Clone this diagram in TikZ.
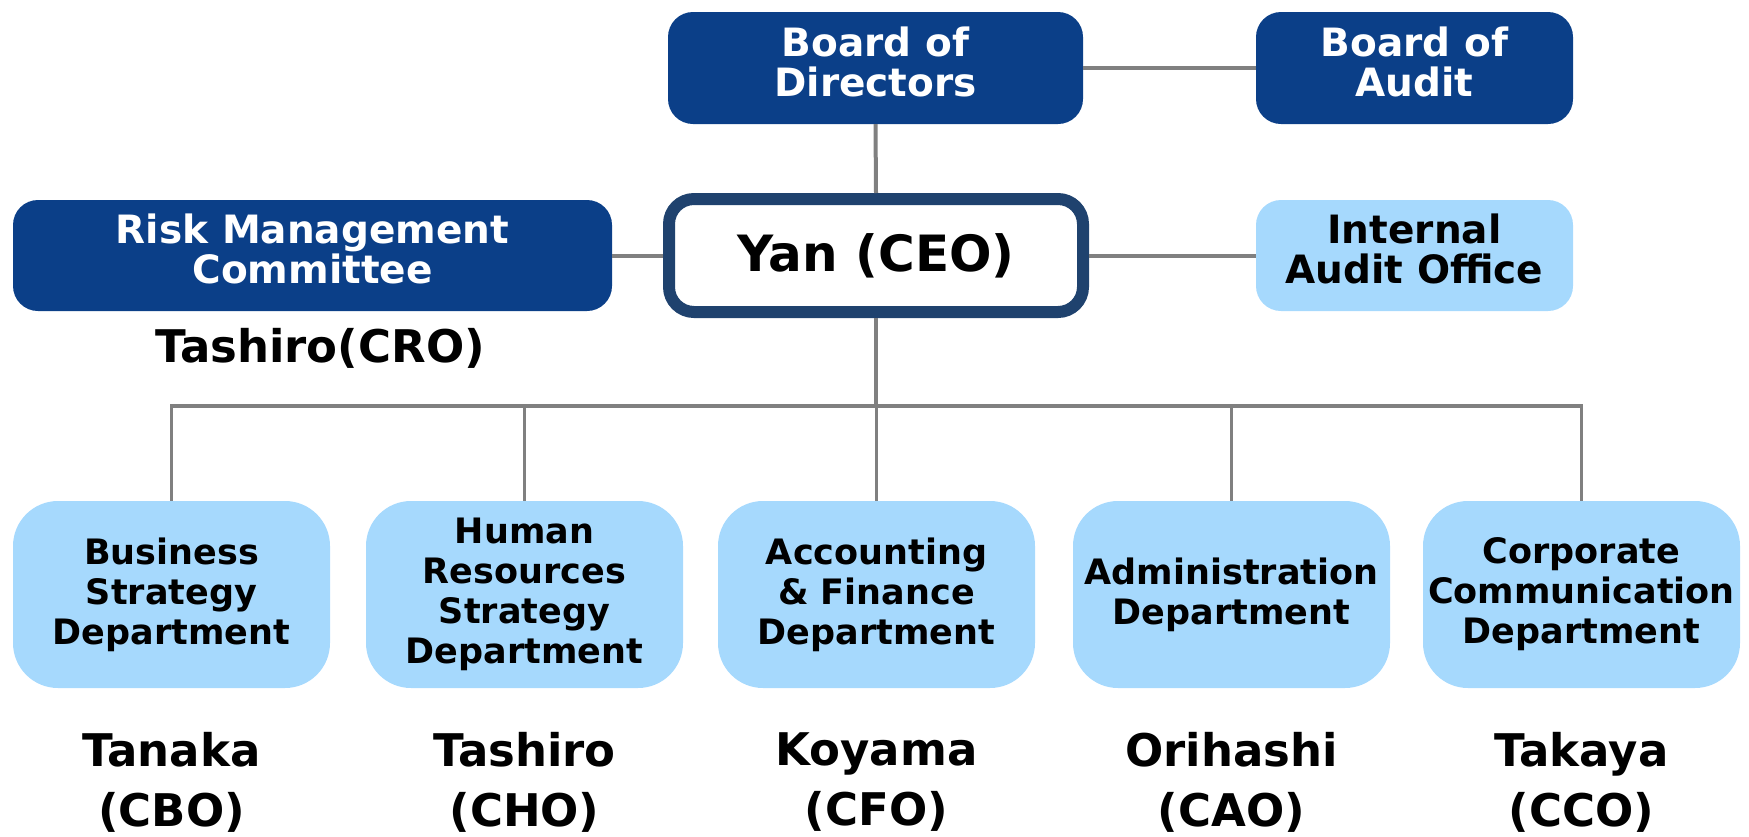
\documentclass[tikz,border=0pt]{standalone}
\usepackage{fontspec}
\setmainfont{DejaVu Sans}

\definecolor{navy}{HTML}{0B3F88}
\definecolor{skyblue}{HTML}{A6D9FD}
\definecolor{ceoframe}{HTML}{1F426E}
\definecolor{linkgray}{HTML}{808080}

\begin{document}
\begin{tikzpicture}[x=1pt, y=-1pt,
  darkbox/.style={rectangle, rounded corners=25pt, fill=navy, text=white, align=center,
    inner sep=0pt, font=\fontsize{39}{40}\selectfont\bfseries, text depth=13pt},
  lightbox/.style={rectangle, rounded corners=25pt, fill=skyblue, text=black, align=center,
    inner sep=0pt, font=\fontsize{39}{40}\selectfont\bfseries, text depth=13pt},
  deptbox/.style={rectangle, rounded corners=45pt, fill=skyblue, align=center,
    minimum width=317pt, minimum height=187pt, inner sep=0pt,
    font=\fontsize{35}{40}\selectfont\bfseries},
  officer/.style={align=center, inner sep=0pt, font=\fontsize{45}{60}\selectfont\bfseries},
  link/.style={draw=linkgray, line width=4pt}]

\useasboundingbox (0,0) rectangle (1749,836);

% top level
\node[darkbox, minimum width=415pt, minimum height=112pt] (board) at (875.5,68) {Board of\\Directors};
\node[darkbox, minimum width=317pt, minimum height=112pt] (audit) at (1414.5,68) {Board of\\Audit};

% second level
\node[darkbox, minimum width=599pt, minimum height=111pt] (risk) at (312.5,255.5) {Risk Management\\Committee};
\node[rectangle, rounded corners=25pt, draw=ceoframe, line width=12pt, fill=white,
  minimum width=414pt, minimum height=113pt, inner sep=0pt,
  font=\fontsize{50}{56}\selectfont\bfseries] (ceo) at (876,255.5) {Yan (CEO)};
\node[lightbox, minimum width=317pt, minimum height=111pt] (internal) at (1414.5,255.5) {Internal\\Audit Office};
\node[officer] (cro) at (320,348) {Tashiro(CRO)};

% departments
\node[deptbox] (bsd) at (171.5,594.5) {Business\\Strategy\\Department};
\node[deptbox] (hrd) at (524.5,594.5) {Human\\Resources\\Strategy\\Department};
\node[deptbox] (afd) at (876.5,594.5) {Accounting\\\&{} Finance\\Department};
\node[deptbox] (adm) at (1231.5,594.5) {Administration\\Department};
\node[deptbox] (ccd) at (1581.5,594.5) {Corporate\\Communication\\Department};

% heads
\node[officer] (cbo) at (171.5,782) {Tanaka\\(CBO)};
\node[officer] (cho) at (524.5,782) {Tashiro\\(CHO)};
\node[officer] (cfo) at (876.5,782) {Koyama\\(CFO)};
\node[officer] (cao) at (1231.5,782) {Orihashi\\(CAO)};
\node[officer] (cco) at (1581.5,782) {Takaya\\(CCO)};

\coordinate (bus) at (876,406);

% connectors
\draw[link] (board) -- (audit);
\draw[link] (board.south) -- (ceo.north);
\draw[link] (risk) -- (ceo);
\draw[link] (ceo) -- (internal);
\draw[link] (ceo.south) -- (bus);
\draw[link, line width=3.5pt] (bsd.north) |- (bus) -| (ccd.north);
\foreach \d in {hrd, afd, adm}
  \draw[link, line width=3.5pt] (\d.north) -- (\d.north |- bus);

\end{tikzpicture}
\end{document}
